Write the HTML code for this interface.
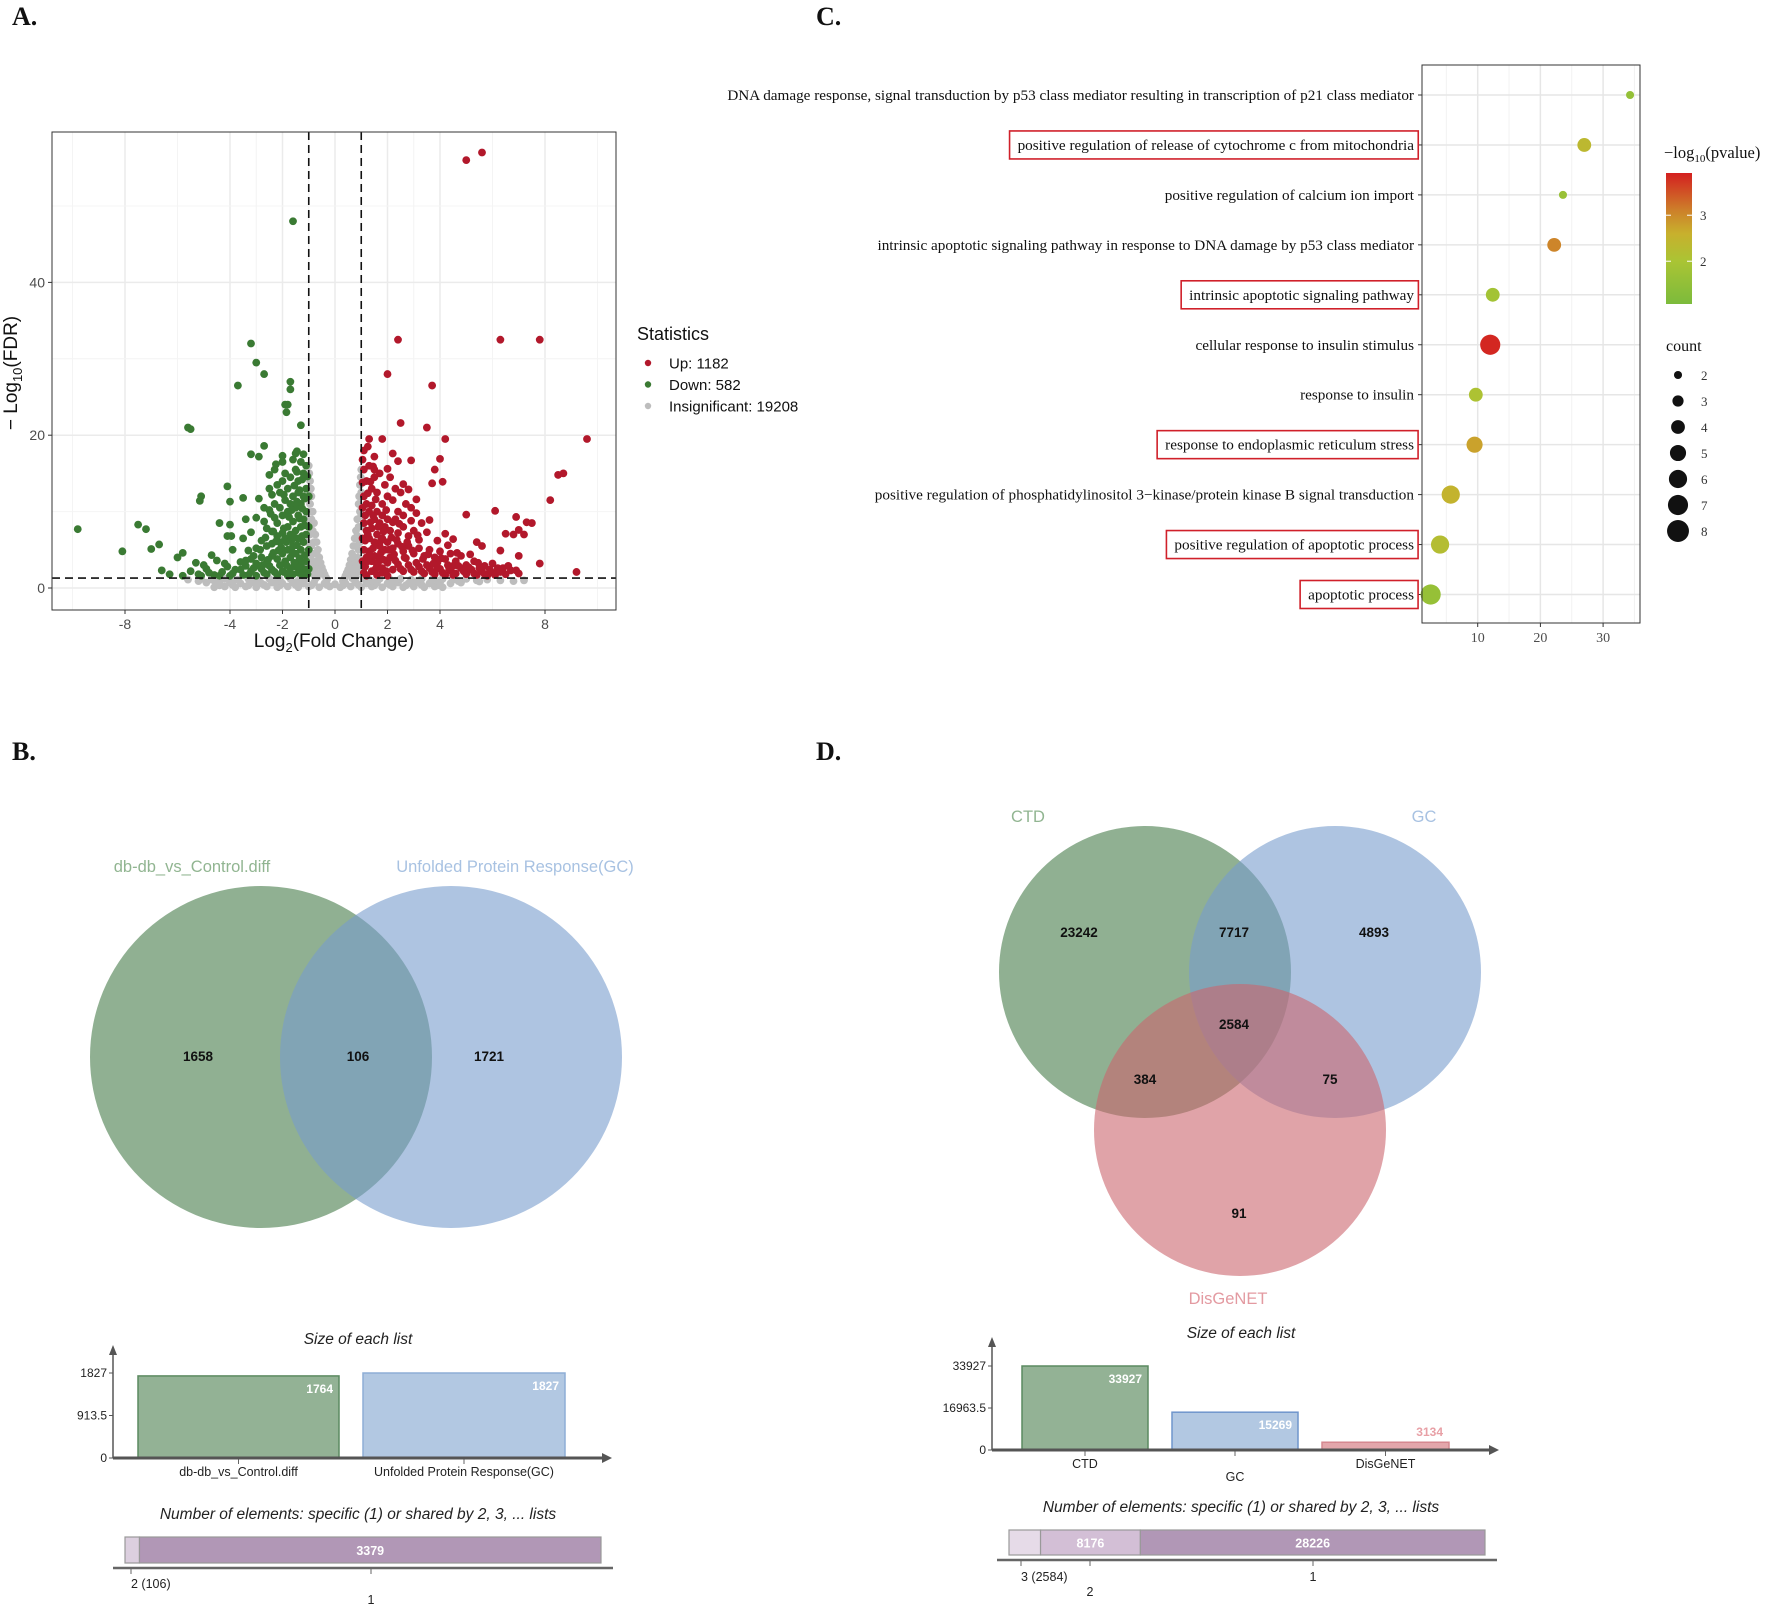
<!DOCTYPE html>
<html><head><meta charset="utf-8"><style>
html,body{margin:0;padding:0;background:#fff;}
svg{display:block;}
.sans{font-family:"Liberation Sans",sans-serif;}
.serif{font-family:"Liberation Serif",serif;}
</style></head><body>
<svg id="fig" width="1772" height="1606" viewBox="0 0 1772 1606" xmlns="http://www.w3.org/2000/svg">
<g class="serif" font-weight="bold" font-size="26" fill="#111">
<text x="12" y="25">A.</text>
<text x="816" y="25">C.</text>
<text x="12" y="760">B.</text>
<text x="816" y="760">D.</text>
</g>
<g id="pA"></g>
<g id="pC"></g>
<g id="pB"></g>
<g id="pD"></g>
</svg>
<script>
// ---------- Panel A data ----------
const volcanoXTicks = [-8,-4,-2,0,2,4,8];
const volcanoYTicks = [0,20,40];
const volcanoLegend = ["Up: 1182","Down: 582","Insignificant: 19208"];
const downPoints = [-1.6,48,-3.2,32,-3.0,29.5,-2.7,28,-3.7,26.5,-1.7,27,-1.7,26,-1.9,24,-1.8,24,-1.85,23,-5.6,21,-5.5,20.8,-1.3,21.3,-2.7,18.6,-3.2,17.5,-2.9,17.2,-2.0,17.3,-1.5,17.6,-4.1,13.3,-5.1,12,-5.15,11.4,-3.5,11.8,-4.0,11.3,-9.8,7.7,-7.5,8.3,-7.2,7.7,-8.1,4.8,-7.0,5.1,-6.7,5.7,-6.0,4.0,-5.8,4.6,-4.4,8.5,-4.0,8.3,-4.1,6.8,-3.95,6.8,-3.4,9,-3.2,7.3,-2.7,8.7,-2.4,7.4,
-1.1,16,-1.2,15,-1.3,16.5,-1.4,14,-1.5,15.5,-1.6,16.8,-1.7,14.5,-1.8,13,-1.9,15,-2.0,14,-2.1,12.5,-2.2,13.5,-2.3,11,-2.4,12.2,-2.5,13,-1.1,13,-1.2,12,-1.3,11,-1.4,12.5,-1.5,10.5,-1.6,12,-1.7,11,-1.8,10,-1.9,11.5,-2.0,9.5,-2.1,10.5,-2.2,8.5,-2.3,9.2,-2.5,10.2,-2.6,7.8,-1.1,10,-1.2,9,-1.3,8,-1.4,9.5,-1.5,7.5,-1.6,8.7,-1.7,7,-1.8,8,-1.9,6.5,-2.0,7.2,-2.1,6,-2.2,6.8,-2.4,5.8,-2.6,5.5,-2.8,6.2,-3.0,5.2,-1.1,7,-1.2,6,-1.3,5,-1.4,6.5,-1.5,4.5,-1.6,5.5,-1.7,4,-1.8,5,-1.9,3.5,-2.0,4.5,-2.2,3.8,-2.4,4.2,-2.6,3.3,-2.8,4,-3.0,3.2,-3.2,3.8,-3.4,2.9,-1.1,3.5,-1.2,2.5,-1.3,3.2,-1.4,2,-1.5,2.8,-1.6,1.8,-1.7,2.6,-1.8,1.6,-2.0,2.2,-2.2,1.7,-2.4,2.4,-2.6,1.8,-2.8,2.5,-3.0,1.6,-3.2,2.2,-3.5,1.7,-3.8,2.4,-4.0,1.6,-4.3,2.1,-4.6,1.7,-4.9,2.5,-5.2,1.8,-5.5,2.2,-5.8,1.6,-3.6,3.4,-4.5,3.6,-5.0,3.0,-2.3,15.5,-2.0,16.5,-1.2,17.5,-1.45,17.9,-1.0,12,-1.0,8,-1.0,5,-1.0,2.5,-2.7,10.5,-3.0,9.2,-2.9,11.7,-3.5,6.5,-3.9,5,-4.7,4.3,-5.3,3.3,-3.3,4.9,-2.5,14.8,-2.25,16.2,-1.55,13.4,-1.75,9.3,-2.35,7.4,-1.35,3.9,-1.65,6.3,-1.95,12.2,-2.45,9.7,-2.15,4.9,-2.75,3.0,-1.25,14.2,
-1.05,1.8,-1.15,4.3,-1.25,6.8,-1.35,9.1,-1.45,11.3,-1.55,3.3,-1.65,4.8,-1.75,1.9,-1.85,3.0,-1.95,2.1,-2.1,3.0,-2.3,2.1,-2.5,2.9,-2.7,2.0,-2.9,2.9,-3.1,2.6,-3.3,1.7,-3.6,2.4,-3.9,1.9,-4.1,2.8,-4.4,1.6,-4.8,2.0,-5.1,1.6,-1.15,8.2,-1.25,10.4,-1.35,12.8,-1.45,15.2,-1.05,14.6,-1.15,11.7,-1.25,1.7,-1.35,2.7,-1.45,5.6,-1.55,6.6,-1.65,10.2,-1.85,6.0,-1.95,7.8,-2.05,5.3,-2.25,6.1,-2.35,4.6,-2.55,3.7,-2.65,6.6,-2.85,5.0,-3.1,4.2,-3.4,3.6,-4.2,3.2,-6.3,1.8,-6.6,2.3];
const upPoints = [5.0,56,5.6,57,2.4,32.5,6.3,32.5,7.8,32.5,2.0,28,3.7,26.5,2.5,21.6,3.5,21,1.8,19.5,1.3,19.5,4.2,19.5,9.6,19.5,1.1,18,2.2,17.6,2.4,16.6,2.9,16.7,4.0,16.9,3.8,15.5,1.5,15.5,8.7,15,8.5,14.8,3.7,13.7,4.1,13.9,8.2,11.5,5.0,9.6,6.1,10.1,6.9,9.3,7.3,8.6,7.5,8.5,7.0,7.6,6.8,7,7.2,7.0,6.5,7.1,4.2,7.1,5.6,5.5,5.4,6.0,6.3,4.9,7.0,4.2,7.8,3.2,9.2,2.1,
1.1,15.5,1.2,14,1.3,16,1.4,13,1.5,14.5,1.6,12.5,1.7,15,1.8,11,1.9,13.5,2.0,12,2.1,14.5,2.2,11.5,2.3,13,2.4,10,2.5,12.5,2.6,9.5,2.7,11,2.9,10.5,3.1,9.8,3.3,8.5,1.1,12,1.2,11,1.3,10,1.4,10.8,1.5,9,1.6,10,1.7,8.5,1.8,9.5,1.9,8,2.0,9,2.1,7.5,2.2,8.6,2.4,7.2,2.6,8,2.8,6.8,3.0,7.5,1.1,8.5,1.2,7.5,1.3,6.5,1.4,7.8,1.5,6,1.6,7,1.7,5.5,1.8,6.5,1.9,5,2.0,6,2.2,5.2,2.4,5.8,2.6,4.8,2.8,5.5,3.0,4.5,3.2,5.2,3.4,4.2,3.6,5,3.8,4,4.0,4.8,4.2,3.8,4.4,4.5,4.6,3.5,4.8,4.2,1.1,5,1.2,4,1.3,4.8,1.4,3.5,1.5,4.2,1.6,3,1.7,3.8,1.8,2.6,2.0,3.3,2.2,2.4,2.4,3.1,2.6,2.2,2.8,3.0,3.0,2.1,3.2,2.8,3.4,1.9,3.6,2.6,3.8,1.8,4.0,2.5,4.2,1.7,4.4,2.3,4.6,1.9,4.8,2.6,5.0,1.8,5.2,2.4,5.4,1.7,5.6,2.2,5.8,1.6,6.0,2.0,6.2,2.6,1.1,2,1.2,1.6,1.4,2.2,1.6,1.7,1.8,2,2.0,1.6,3.5,7.3,3.2,6.3,3.9,6.2,4.3,5.6,4.5,6.4,3.6,8.9,3.1,11.6,2.6,13.6,2.0,15.6,1.5,17.2,1.25,18.5,2.8,12.9,2.3,9.0,2.9,8.8,1.05,10.5,1.05,6.5,1.05,3.5,5.3,3.5,5.7,2.9,6.0,3.2,5.0,3.0,4.5,2.9,3.9,3.3,6.4,2.6,6.7,2.3,6.5,1.8,7.0,1.9,
1.15,2.8,1.25,3.5,1.35,4.3,1.45,5.2,1.55,2.5,1.65,3.4,1.75,4.6,1.85,3.7,1.95,2.2,2.1,4.0,2.3,3.6,2.5,2.5,2.7,3.9,2.9,2.4,3.1,3.3,3.3,2.2,3.5,3.0,3.7,2.1,3.9,2.7,4.1,2.0,4.3,3.0,4.5,1.7,4.7,2.9,4.9,2.2,5.1,2.7,5.3,1.9,5.5,2.6,5.7,1.8,5.9,2.4,6.1,1.7,6.3,2.1,6.6,2.9,6.9,2.3,1.15,6.2,1.25,7.0,1.35,8.6,1.45,9.5,1.55,11.6,1.65,8.0,1.75,6.2,1.85,7.4,1.95,10.2,2.05,5.0,2.15,6.6,2.25,4.4,2.35,6.3,2.45,8.4,2.55,5.4,2.65,4.0,2.75,6.0,2.95,4.9,3.15,6.9,3.35,3.8,3.55,4.4,3.75,3.2,4.05,3.9,4.35,2.5,4.65,4.6,5.15,4.4,5.45,3.3,1.15,9.5,1.25,12.4,1.35,13.9,1.45,15.9,1.05,13.8,1.05,16.8];
const insigPoints = [-1.0,16,-0.95,14,-0.9,12,-0.85,10,-0.8,8.5,-0.75,7,-0.7,6,-0.65,5,-0.6,4,-0.55,3.3,-0.5,2.7,-0.45,2.2,-0.4,1.8,-0.35,1.4,-0.3,1.1,-0.9,9,-0.95,11,-0.85,7.5,-0.8,6,-0.7,4.5,-0.6,3,-0.5,2,-0.95,7,-0.9,5.5,-0.85,4.5,-0.8,3.5,-0.75,2.7,-0.7,2,-0.65,1.5,-1.0,10,-1.0,13,-0.95,4,-0.9,3,-0.85,2.3,-0.8,1.7,-0.75,1.2,
1.0,15.5,0.95,13.5,0.9,11,0.85,9,0.8,7.5,0.75,6.5,0.7,5.5,0.65,4.5,0.6,3.7,0.55,3,0.5,2.4,0.45,2,0.4,1.6,0.35,1.2,0.3,0.9,0.9,8,0.95,10,0.85,6.8,0.8,5.5,0.7,4,0.6,2.7,0.5,1.8,0.95,6,0.9,5,0.85,4,0.8,3.2,0.75,2.5,0.7,1.8,0.65,1.3,1.0,9.5,1.0,12.5,0.95,3.7,0.9,2.8,0.85,2.1,0.8,1.5,0.75,1.0,
-1.05,9,-1.05,6,-1.05,3,-1.1,1.2,-1.2,0.9,-1.3,1.0,1.05,8,1.05,5,1.05,2.5,1.1,1.2,1.2,0.9,1.3,1.0,-0.98,15,0.98,14.5,-0.92,13,0.92,12,
-4.6,0.1,-4.2,0.2,-3.8,0.1,-3.4,0.2,-3.0,0.1,-2.6,0.2,-2.2,0.1,-1.8,0.2,-1.4,0.1,-1.0,0.2,-0.6,0.1,-0.2,0.2,0.2,0.1,0.6,0.2,1.0,0.1,1.4,0.2,1.8,0.1,2.2,0.2,2.6,0.1,3.0,0.2,3.4,0.1,3.8,0.2,4.1,0.1,
-4.4,0.35,-3.9,0.4,-3.3,0.35,-2.7,0.4,-2.1,0.35,-1.5,0.4,-0.9,0.35,-0.3,0.4,0.3,0.35,0.9,0.4,1.5,0.35,2.1,0.4,2.7,0.35,3.3,0.4,3.9,0.35,
-4.9,0.7,-4.4,0.6,-4.0,0.7,-3.6,0.6,-3.2,0.7,-2.8,0.6,-2.4,0.7,-2.0,0.6,-1.6,0.7,-1.2,0.6,-0.8,0.7,-0.4,0.6,0,0.5,0.4,0.6,0.8,0.7,1.2,0.6,1.6,0.7,2.0,0.6,2.4,0.7,2.8,0.6,3.2,0.7,3.6,0.6,4.0,0.7,4.4,0.6,4.8,0.7,
-5.2,0.9,-4.6,0.95,-3.9,0.9,-3.0,0.95,-2.2,0.9,-1.4,0.95,1.4,0.9,2.3,0.95,3.1,0.9,3.9,0.95,4.7,0.9,5.5,0.85,
-5.6,1.1,-5.1,1.2,-4.7,1.1,-4.2,1.2,-3.7,1.1,-3.3,1.2,-2.9,1.1,-2.5,1.2,-2.1,1.1,-1.7,1.2,-1.3,1.1,1.3,1.1,1.7,1.2,2.1,1.1,2.5,1.2,2.9,1.1,3.3,1.2,3.7,1.1,4.1,1.2,4.5,1.1,5.0,1.2,5.4,1.0,5.8,1.1,6.3,1.0,6.8,0.9,7.2,1.0];

// ---------- Panel C data ----------
const goTerms = ["DNA damage response, signal transduction by p53 class mediator resulting in transcription of p21 class mediator","positive regulation of release of cytochrome c from mitochondria","positive regulation of calcium ion import","intrinsic apoptotic signaling pathway in response to DNA damage by p53 class mediator","intrinsic apoptotic signaling pathway","cellular response to insulin stimulus","response to insulin","response to endoplasmic reticulum stress","positive regulation of phosphatidylinositol 3\u2212kinase/protein kinase B signal transduction","positive regulation of apoptotic process","apoptotic process"];
const goXValues = [34.3,27.0,23.6,22.2,12.4,12.0,9.7,9.5,5.7,4.0,2.5];
const goCounts = [2,4,2,4,4,7,4,5,6,6,7];
const goPvalues = [1.55,2.35,1.65,3.05,1.85,3.85,2.05,2.75,2.5,2.2,1.6];
const goHighlighted = [false,true,false,false,true,false,false,true,false,true,true];
const goXTicks = [10,20,30];
const pvalTicks = [2,3];
const countLegend = [2,3,4,5,6,7,8];

// ---------- Panel B data ----------
const vennBSets = ["db-db_vs_Control.diff","Unfolded Protein Response(GC)"];
const vennBRegions = [1658,106,1721];
const vennBSizes = [1764,1827];
const vennBShared = [106,3379];
const vennBSharedLabels = ["2 (106)","1"];

// ---------- Panel D data ----------
const vennDSets = ["CTD","GC","DisGeNET"];
const vennDRegions = [23242,7717,4893,2584,384,75,91];
const vennDSizes = [33927,15269,3134];
const vennDShared = [2584,8176,28226];
const vennDSharedLabels = ["3 (2584)","2","1"];

const NS="http://www.w3.org/2000/svg";
function mk(parent,tag,attrs,txt){const e=document.createElementNS(NS,tag);for(const k in attrs)e.setAttribute(k,attrs[k]);if(txt!==undefined)e.textContent=txt;parent.appendChild(e);return e;}

// ================= Panel A =================
(function(){
const g=document.getElementById('pA');
const L=52,R=616,T=132,B=610;
const xA=v=>335+v*26.25, yA=v=>588-v*7.64;
const bg=mk(g,'rect',{x:L,y:T,width:R-L,height:B-T,fill:'#fff'});


[-10,-6,-3,-1,1,3,6,10].forEach(v=>mk(g,'line',{x1:xA(v),x2:xA(v),y1:T,y2:B,stroke:'#f4f4f4','stroke-width':1}));
volcanoXTicks.forEach(v=>mk(g,'line',{x1:xA(v),x2:xA(v),y1:T,y2:B,stroke:'#ebebeb','stroke-width':1.5}));
[10,30,50].forEach(v=>mk(g,'line',{x1:L,x2:R,y1:yA(v),y2:yA(v),stroke:'#f4f4f4','stroke-width':1}));
volcanoYTicks.forEach(v=>mk(g,'line',{x1:L,x2:R,y1:yA(v),y2:yA(v),stroke:'#ebebeb','stroke-width':1.5}));
function pts(arr,col,name){for(let i=0;i<arr.length;i+=2){const c=mk(g,'circle',{cx:xA(arr[i]),cy:yA(arr[i+1]),r:3.9,fill:col});

}}
pts(insigPoints,'#bdbdbd','insignificant-point');
pts(downPoints,'#3a7a33','down-point');
pts(upPoints,'#b2182b','up-point');
[1,-1].forEach(v=>mk(g,'line',{x1:xA(v),x2:xA(v),y1:T,y2:B,stroke:'#111','stroke-width':1.6,'stroke-dasharray':'8,5'}));
mk(g,'line',{x1:L,x2:R,y1:yA(1.3),y2:yA(1.3),stroke:'#111','stroke-width':1.6,'stroke-dasharray':'8,5'});
mk(g,'rect',{x:L,y:T,width:R-L,height:B-T,fill:'none',stroke:'#333','stroke-width':1});
volcanoXTicks.forEach(v=>{mk(g,'line',{x1:xA(v),x2:xA(v),y1:B,y2:B+4,stroke:'#333'});
const t=mk(g,'text',{x:xA(v),y:B+19,'text-anchor':'middle','font-size':14,fill:'#4d4d4d',class:'sans'},String(v));

});
volcanoYTicks.forEach(v=>{mk(g,'line',{x1:L-4,x2:L,y1:yA(v),y2:yA(v),stroke:'#333'});
const t=mk(g,'text',{x:L-7,y:yA(v)+5,'text-anchor':'end','font-size':14,fill:'#4d4d4d',class:'sans'},String(v));

});
const xt=mk(g,'text',{x:334,y:647,'text-anchor':'middle','font-size':19,fill:'#111',class:'sans'});
xt.innerHTML='Log<tspan font-size="13" dy="5">2</tspan><tspan dy="-5">(Fold Change)</tspan>';


const yt=mk(g,'text',{x:0,y:0,'text-anchor':'middle','font-size':19,fill:'#111',class:'sans',transform:'translate(17,373) rotate(-90)'});
yt.innerHTML='\u2212 Log<tspan font-size="13" dy="5">10</tspan><tspan dy="-5">(FDR)</tspan>';


const lt=mk(g,'text',{x:637,y:340,'font-size':18,fill:'#111',class:'sans'},'Statistics');


const lc=['#b2182b','#3a7a33','#bdbdbd'];
volcanoLegend.forEach((s,i)=>{const y=363+i*21.5;
const le=mk(g,'g',{});


mk(le,'circle',{cx:648,cy:y,r:3.2,fill:lc[i]});
mk(le,'text',{x:669,y:y+5.5,'font-size':15,fill:'#111',class:'sans'},s);});
})();

// ================= Panel C =================
(function(){
const g=document.getElementById('pC');
const L=1422,R=1640,T=65,B=623;
const xC=v=>1415+v*6.27, yC=i=>95+i*49.95;
[5,15,25,35].forEach(v=>mk(g,'line',{x1:xC(v),x2:xC(v),y1:T,y2:B,stroke:'#f2f2f2','stroke-width':1}));
goXTicks.forEach(v=>mk(g,'line',{x1:xC(v),x2:xC(v),y1:T,y2:B,stroke:'#e6e6e6','stroke-width':1.5}));
goTerms.forEach((s,i)=>mk(g,'line',{x1:L,x2:R,y1:yC(i),y2:yC(i),stroke:'#e6e6e6','stroke-width':1.5}));
const stops=[[1.07,[124,187,60]],[2.0,[170,196,52]],[2.6,[200,176,45]],[3.1,[205,128,42]],[3.91,[212,32,32]]];
function col(v){if(v<=stops[0][0])return 'rgb('+stops[0][1]+')';for(let k=1;k<stops.length;k++){if(v<=stops[k][0]){const a=stops[k-1],b=stops[k],t=(v-a[0])/(b[0]-a[0]);return 'rgb('+a[1].map((c,j)=>Math.round(c+(b[1][j]-c)*t))+')';}}return 'rgb('+stops[4][1]+')';}
const rad=c=>4.9*Math.sqrt(c)-2.9;
goTerms.forEach((s,i)=>{
const t=mk(g,'text',{x:L-8,y:yC(i)+5,'text-anchor':'end','font-size':15.2,fill:'#111',class:'serif'},s);


mk(g,'line',{x1:L-4,x2:L,y1:yC(i),y2:yC(i),stroke:'#333'});
if(goHighlighted[i]){const bb=t.getBBox();const r=mk(g,'rect',{x:bb.x-8,y:yC(i)-14,width:bb.width+12,height:28,fill:'none',stroke:'#d0202a','stroke-width':1.6});

}
const c=mk(g,'circle',{cx:xC(goXValues[i]),cy:yC(i),r:rad(goCounts[i]),fill:col(goPvalues[i])});

});
mk(g,'rect',{x:L,y:T,width:R-L,height:B-T,fill:'none',stroke:'#333','stroke-width':1});
goXTicks.forEach(v=>{mk(g,'line',{x1:xC(v),x2:xC(v),y1:B,y2:B+4,stroke:'#333'});
const t=mk(g,'text',{x:xC(v),y:B+19,'text-anchor':'middle','font-size':14,fill:'#4d4d4d',class:'serif'},String(v));

});
const pt=mk(g,'text',{x:1664,y:158,'font-size':16.5,fill:'#111',class:'serif'});
pt.innerHTML='\u2212log<tspan font-size="11" dy="4">10</tspan><tspan dy="-4">(pvalue)</tspan>';


const defs=mk(g,'defs',{});const lg=mk(defs,'linearGradient',{id:'pg',x1:0,y1:1,x2:0,y2:0});
stops.forEach(s=>mk(lg,'stop',{offset:((s[0]-1.07)/(3.91-1.07)),'stop-color':'rgb('+s[1]+')'}));
const cb=mk(g,'rect',{x:1666,y:173,width:26,height:131,fill:'url(#pg)'});


const yP=v=>304-(v-1.07)*46;
pvalTicks.forEach(v=>{mk(g,'line',{x1:1666,x2:1671,y1:yP(v),y2:yP(v),stroke:'#fff'});mk(g,'line',{x1:1687,x2:1692,y1:yP(v),y2:yP(v),stroke:'#fff'});
mk(g,'text',{x:1700,y:yP(v)+5,'font-size':13,fill:'#333',class:'serif'},String(v));});
const ct=mk(g,'text',{x:1666,y:351,'font-size':16,fill:'#111',class:'serif'},'count');


countLegend.forEach((c,i)=>{const y=375+i*26;
const le=mk(g,'g',{});


mk(le,'circle',{cx:1678,cy:y,r:rad(c),fill:'#111'});
mk(le,'text',{x:1701,y:y+5,'font-size':13,fill:'#333',class:'serif'},String(c));});
})();

// ================= Bar helper =================
function sizeBars(g,o){
const {ax,ay0,ytop,axEnd,max,bars,tickLabels,ticks}=o;
const yS=v=>ay0-(v/max)*(ay0-o.yMax);
bars.forEach(b=>{const r=mk(g,'rect',{x:b.x,y:yS(b.v),width:b.w,height:ay0-yS(b.v),fill:b.fill,stroke:b.stroke,'stroke-width':1.5});


const inside=(ay0-yS(b.v))>24;
mk(g,'text',{x:b.x+b.w-6,y:inside?yS(b.v)+17:yS(b.v)-6,'text-anchor':'end','font-size':12,fill:inside?'#fff':b.lab,class:'sans','font-weight':'bold'},String(b.v));
mk(g,'line',{x1:b.x+b.w/2,x2:b.x+b.w/2,y1:ay0,y2:ay0+6,stroke:'#666'});
const t=mk(g,'text',{x:b.x+b.w/2,y:ay0+b.ly,'text-anchor':'middle','font-size':12.5,fill:'#222',class:'sans'},b.label);

});
mk(g,'line',{x1:ax,x2:ax,y1:ay0,y2:ytop+8,stroke:'#555','stroke-width':1.5});
mk(g,'polygon',{points:`${ax-4},${ytop+10} ${ax+4},${ytop+10} ${ax},${ytop}`,fill:'#555'});
mk(g,'line',{x1:ax,x2:axEnd-8,y1:ay0,y2:ay0,stroke:'#555','stroke-width':3});
mk(g,'polygon',{points:`${axEnd-10},${ay0-5} ${axEnd-10},${ay0+5} ${axEnd},${ay0}`,fill:'#555'});
ticks.forEach((v,i)=>{mk(g,'line',{x1:ax-4,x2:ax,y1:yS(v),y2:yS(v),stroke:'#555'});
mk(g,'text',{x:ax-6,y:yS(v)+4,'text-anchor':'end','font-size':12,fill:'#222',class:'sans'},tickLabels[i]);});
}
function sharedBar(g,o){
const total=o.vals.reduce((a,b)=>a+b,0);
let x=o.x0;
o.vals.forEach((v,i)=>{const w=v/total*(o.x1-o.x0);
const r=mk(g,'rect',{x:x,y:o.y,width:w,height:o.h,fill:o.fills[i],stroke:'#999','stroke-width':1.2});


if(o.showVal[i])mk(g,'text',{x:x+w/2,y:o.y+o.h/2+5,'text-anchor':'middle','font-size':12.5,fill:'#fff',class:'sans','font-weight':'bold'},String(v));
x+=w;});
mk(g,'line',{x1:o.x0-12,x2:o.x1+12,y1:o.y+o.h+5,y2:o.y+o.h+5,stroke:'#666','stroke-width':2.5});
o.labels.forEach((l,i)=>{mk(g,'line',{x1:o.lx[i],x2:o.lx[i],y1:o.y+o.h+5,y2:o.y+o.h+11,stroke:'#666'});
const t=mk(g,'text',{x:o.lx[i],y:o.ly[i],'text-anchor':o.anchor[i],'font-size':12.5,fill:'#222',class:'sans'},l);

});
}

// ================= Panel B =================
(function(){
const g=document.getElementById('pB');
const c1=mk(g,'circle',{cx:261,cy:1057,r:171,fill:'rgb(70,123,73)','fill-opacity':0.6});


const c2=mk(g,'circle',{cx:451,cy:1057,r:171,fill:'rgb(120,157,205)','fill-opacity':0.6});


const s1=mk(g,'text',{x:192,y:872,'text-anchor':'middle','font-size':16.5,fill:'#91b591',class:'sans'},vennBSets[0]);


const s2=mk(g,'text',{x:515,y:872,'text-anchor':'middle','font-size':16.5,fill:'#a8c2e2',class:'sans'},vennBSets[1]);


[[198,1061],[358,1061],[489,1061]].forEach((p,i)=>{const t=mk(g,'text',{x:p[0],y:p[1],'text-anchor':'middle','font-size':13.5,'font-weight':'bold',fill:'#111',class:'sans'},String(vennBRegions[i]));

});
const t1=mk(g,'text',{x:358,y:1344,'text-anchor':'middle','font-size':15.5,'font-style':'italic',fill:'#222',class:'sans'},'Size of each list');


sizeBars(g,{ax:113,ay0:1458,ytop:1345,axEnd:612,max:1827,yMax:1373,ticks:[1827,913.5,0],tickLabels:['1827','913.5','0'],
bars:[{x:138,w:201,v:vennBSizes[0],fill:'#93b295',stroke:'#5b8a60',lab:'#fff',label:vennBSets[0],ly:18,name:'bar-db'},
{x:363,w:202,v:vennBSizes[1],fill:'#b2c8e2',stroke:'#8eaed6',lab:'#fff',label:vennBSets[1],ly:18,name:'bar-upr'}]});
const t2=mk(g,'text',{x:358,y:1519,'text-anchor':'middle','font-size':15.5,'font-style':'italic',fill:'#222',class:'sans'},'Number of elements: specific (1) or shared by 2, 3, ... lists');


sharedBar(g,{x0:125,x1:601,y:1537,h:26,vals:vennBShared,fills:['#dccfdf','#b197b6'],showVal:[false,true],labels:vennBSharedLabels,lx:[131,371],ly:[1588,1604],anchor:['start','middle']});
})();

// ================= Panel D =================
(function(){
const g=document.getElementById('pD');
const circ=[[1145,972,'rgb(70,123,73)','venn-circle-ctd'],[1335,972,'rgb(120,157,205)','venn-circle-gc'],[1240,1130,'rgb(203,102,110)','venn-circle-disgenet']];
circ.forEach(c=>{const e=mk(g,'circle',{cx:c[0],cy:c[1],r:146,fill:c[2],'fill-opacity':0.6});

});
const sl=[[1028,822,'#91b591'],[1424,822,'#a8c2e2'],[1228,1304,'#e39aa1']];
vennDSets.forEach((s,i)=>{const t=mk(g,'text',{x:sl[i][0],y:sl[i][1],'text-anchor':'middle','font-size':16.5,fill:sl[i][2],class:'sans'},s);

});
const rp=[[1079,937],[1234,937],[1374,937],[1234,1029],[1145,1084],[1330,1084],[1239,1218]];
rp.forEach((p,i)=>{const t=mk(g,'text',{x:p[0],y:p[1],'text-anchor':'middle','font-size':13.5,'font-weight':'bold',fill:'#111',class:'sans'},String(vennDRegions[i]));

});
const t1=mk(g,'text',{x:1241,y:1338,'text-anchor':'middle','font-size':15.5,'font-style':'italic',fill:'#222',class:'sans'},'Size of each list');


sizeBars(g,{ax:992,ay0:1450,ytop:1337,axEnd:1499,max:33927,yMax:1366,ticks:[33927,16963.5,0],tickLabels:['33927','16963.5','0'],
bars:[{x:1022,w:126,v:vennDSizes[0],fill:'#93b295',stroke:'#5b8a60',lab:'#fff',label:vennDSets[0],ly:18,name:'bar-ctd'},
{x:1172,w:126,v:vennDSizes[1],fill:'#b2c8e2',stroke:'#6f95cc',lab:'#fff',label:vennDSets[1],ly:31,name:'bar-gc'},
{x:1322,w:127,v:vennDSizes[2],fill:'#e3a6ab',stroke:'#d58890',lab:'#e8a0a6',label:vennDSets[2],ly:18,name:'bar-disgenet'}]});
const t2=mk(g,'text',{x:1241,y:1512,'text-anchor':'middle','font-size':15.5,'font-style':'italic',fill:'#222',class:'sans'},'Number of elements: specific (1) or shared by 2, 3, ... lists');


sharedBar(g,{x0:1009,x1:1485,y:1530,h:25,vals:vennDShared,fills:['#e6dbe8','#d3bfd6','#b197b6'],showVal:[false,true,true],labels:vennDSharedLabels,lx:[1021,1090,1313],ly:[1581,1596,1581],anchor:['start','middle','middle']});
})();
</script>
</body></html>
